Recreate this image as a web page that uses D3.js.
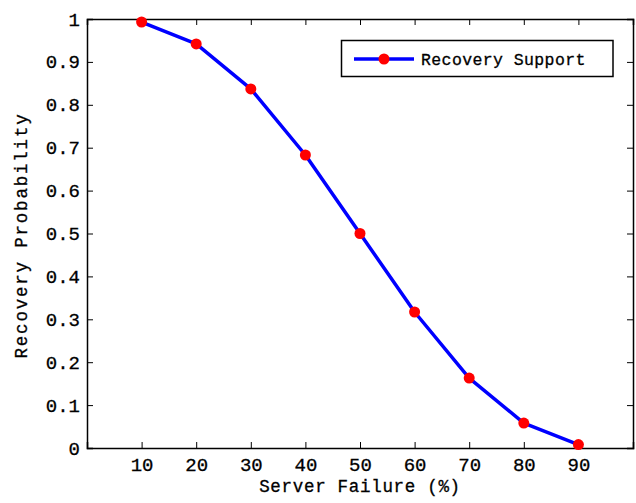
<!DOCTYPE html>
<html>
<head>
<meta charset="utf-8">
<script src="https://cdn.jsdelivr.net/npm/d3@7"></script>
<style>
  html, body { margin: 0; padding: 0; background: #fff; }
  svg text { font-family: "Liberation Mono", "DejaVu Sans Mono", monospace; fill: #000; stroke: #000; stroke-width: 0.3px; }
</style>
</head>
<body>
<svg id="chart" width="636" height="503"></svg>
<script>
// Server failure rate (%) vs. probability that recovery succeeds
const failureRates = [10, 20, 30, 40, 50, 60, 70, 80, 90];
const recoveryProb = [0.993, 0.942, 0.837, 0.683, 0.5, 0.317, 0.163, 0.058, 0.008];
const xTicks = [10, 20, 30, 40, 50, 60, 70, 80, 90];
const yTicks = [0, 0.1, 0.2, 0.3, 0.4, 0.5, 0.6, 0.7, 0.8, 0.9, 1];
const seriesName = "Recovery Support";

const svg = d3.select("#chart");
const margin = { left: 87, right: 3, top: 19, bottom: 55 };
const W = 636, H = 503;
const x = d3.scaleLinear().domain([0, 100]).range([margin.left, W - margin.right]);
const y = d3.scaleLinear().domain([0, 1]).range([H - margin.bottom, margin.top]);

const fmtY = d => (d === 0 || d === 1) ? String(d) : d.toFixed(1);

// bottom axis with inward ticks
const gx = svg.append("g").attr("transform", `translate(0,${y(0)})`)
  .call(d3.axisBottom(x).tickValues(xTicks).tickSize(-6).tickPadding(10));
// top mirror ticks
const gxt = svg.append("g").attr("transform", `translate(0,${y(1)})`)
  .call(d3.axisTop(x).tickValues(xTicks).tickSize(-6).tickFormat(""));
// left axis
const gy = svg.append("g").attr("transform", `translate(${x(0)},0)`)
  .call(d3.axisLeft(y).tickValues(yTicks).tickFormat(fmtY).tickSize(-6).tickPadding(7));
// right mirror ticks
const gyr = svg.append("g").attr("transform", `translate(${x(100)},0)`)
  .call(d3.axisRight(y).tickValues(yTicks).tickSize(-6).tickFormat(""));

[gx, gxt, gy, gyr].forEach(g => {
  g.select(".domain").attr("stroke", "#000").attr("stroke-width", 1.5);
  g.selectAll(".tick line").attr("stroke", "#000").attr("stroke-width", 1);
  g.selectAll(".tick text").style("font-size", "19px").style("font-family", '"Liberation Mono", monospace')
    .attr("fill", "#000");
});

// series line
const line = d3.line().x((d, i) => x(failureRates[i])).y(d => y(d));
svg.append("path").datum(recoveryProb)
  .attr("fill", "none").attr("stroke", "#0000ff").attr("stroke-width", 3.5)
  .attr("stroke-linejoin", "round").attr("d", line);

svg.selectAll("circle.pt").data(recoveryProb).enter().append("circle")
  .attr("class", "pt")
  .attr("cx", (d, i) => x(failureRates[i])).attr("cy", d => y(d))
  .attr("r", 5.5).attr("fill", "#ff0000");

// axis titles
svg.append("text").attr("x", x(50)).attr("y", 492)
  .attr("text-anchor", "middle").style("font-size", "17.5px").style("letter-spacing", "0.7px")
  .text("Server Failure (%)");
svg.append("text").attr("transform", `translate(27,${y(0.5) + 2}) rotate(-90)`)
  .attr("text-anchor", "middle").style("font-size", "17.5px").style("letter-spacing", "1.8px")
  .text("Recovery Probability");

// legend
const lg = svg.append("g");
lg.append("rect").attr("x", 341.5).attr("y", 40.5).attr("width", 271.5).attr("height", 36)
  .attr("fill", "#fff").attr("stroke", "#000").attr("stroke-width", 1.5);
lg.append("line").attr("x1", 354).attr("x2", 414).attr("y1", 59).attr("y2", 59)
  .attr("stroke", "#0000ff").attr("stroke-width", 3.5);
lg.append("circle").attr("cx", 384).attr("cy", 59).attr("r", 5.5).attr("fill", "#ff0000");
lg.append("text").attr("x", 421).attr("y", 65).style("font-size", "16.5px").style("letter-spacing", "0.4px")
  .text(seriesName);
</script>
</body>
</html>
